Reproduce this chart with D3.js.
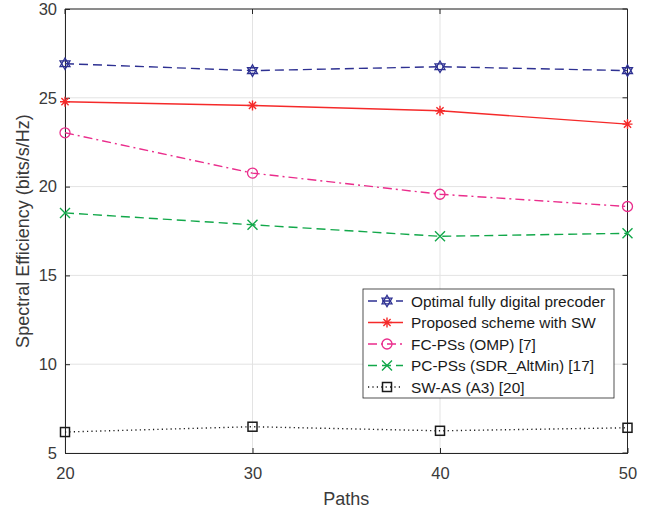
<!DOCTYPE html>
<html>
<head>
<meta charset="utf-8">
<script src="https://cdn.jsdelivr.net/npm/d3@7"></script>
<style>
  body { margin: 0; background: #fff; }
  svg { display: block; font-family: "Liberation Sans", Arial, sans-serif; }
</style>
</head>
<body>
<svg width="646" height="510"></svg>
<script>
// data
const paths = [20, 30, 40, 50];
const optimal = [26.92, 26.53, 26.75, 26.53];
const proposed = [24.78, 24.57, 24.27, 23.52];
const fcOmp = [23.03, 20.76, 19.57, 18.88];
const pcSdr = [18.52, 17.85, 17.2, 17.37];
const swAs = [6.18, 6.48, 6.25, 6.42];
const yTicks = [5, 10, 15, 20, 25, 30];
const xTicks = [20, 30, 40, 50];

const series = [
  { name: "Optimal fully digital precoder", values: optimal, color: "#2e3192", dash: "9,5", marker: "hexagram" },
  { name: "Proposed scheme with SW", values: proposed, color: "#f52a2a", dash: null, marker: "asterisk" },
  { name: "FC-PSs (OMP) [7]", values: fcOmp, color: "#ea2d8c", dash: "9,4,2,4", marker: "circle" },
  { name: "PC-PSs (SDR_AltMin) [17]", values: pcSdr, color: "#12a84a", dash: "9,5", marker: "cross" },
  { name: "SW-AS (A3) [20]", values: swAs, color: "#1a1a1a", dash: "1.2,3.2", marker: "square" }
];

const svg = d3.select("svg");
const mLeft = 65, mRight = 627.5, mTop = 9, mBottom = 453;

const x = d3.scaleLinear().domain([20, 50]).range([mLeft, mRight]);
const y = d3.scaleLinear().domain([5, 30]).range([mBottom, mTop]);

const axisColor = "#262626";

// grid
svg.append("g").selectAll("line").data(xTicks).join("line")
  .attr("x1", d => x(d)).attr("x2", d => x(d))
  .attr("y1", mTop).attr("y2", mBottom)
  .attr("stroke", "#e3e3e3").attr("stroke-width", 1);
svg.append("g").selectAll("line").data(yTicks).join("line")
  .attr("x1", mLeft).attr("x2", mRight)
  .attr("y1", d => y(d)).attr("y2", d => y(d))
  .attr("stroke", "#e3e3e3").attr("stroke-width", 1);

// axes
const xAxis = svg.append("g").attr("transform", `translate(0,${mBottom})`)
  .call(d3.axisBottom(x).tickValues(xTicks).tickSize(-5).tickPadding(14).tickSizeOuter(0));
const yAxis = svg.append("g").attr("transform", `translate(${mLeft},0)`)
  .call(d3.axisLeft(y).tickValues(yTicks).tickSize(-5).tickPadding(8).tickSizeOuter(0));
[xAxis, yAxis].forEach(a => {
  a.selectAll("path, line").attr("stroke", axisColor);
  a.selectAll("text").attr("fill", "#3a3a3a").style("font-size", "16.5px");
});
// top and right ticks + box
svg.append("g").selectAll("line").data(xTicks).join("line")
  .attr("x1", d => x(d)).attr("x2", d => x(d)).attr("y1", mTop).attr("y2", mTop + 5)
  .attr("stroke", axisColor);
svg.append("g").selectAll("line").data(yTicks).join("line")
  .attr("x1", mRight).attr("x2", mRight - 5).attr("y1", d => y(d)).attr("y2", d => y(d))
  .attr("stroke", axisColor);
svg.append("path")
  .attr("d", `M${mLeft},${mTop}H${mRight}V${mBottom}`)
  .attr("fill", "none").attr("stroke", axisColor);

// labels
svg.append("text").attr("x", (mLeft + mRight) / 2).attr("y", 505)
  .attr("text-anchor", "middle").attr("fill", "#3a3a3a").style("font-size", "18px").text("Paths");
svg.append("text").attr("transform", `translate(29,${(mTop + mBottom) / 2}) rotate(-90)`)
  .attr("text-anchor", "middle").attr("fill", "#3a3a3a").style("font-size", "18px")
  .text("Spectral Efficiency (bits/s/Hz)");

// markers
function drawMarker(g, type, color) {
  const s = 5;
  if (type === "hexagram") {
    const tri = (rot) => d3.range(3).map(i => {
      const a = rot + i * 2 * Math.PI / 3;
      return [s * 1.15 * Math.sin(a), -s * 1.15 * Math.cos(a)];
    });
    g.append("path").attr("d", "M" + tri(0).join("L") + "Z")
      .attr("fill", "none").attr("stroke", color).attr("stroke-width", 1.3);
    g.append("path").attr("d", "M" + tri(Math.PI).join("L") + "Z")
      .attr("fill", "none").attr("stroke", color).attr("stroke-width", 1.3);
  } else if (type === "asterisk") {
    const d = s * 0.72;
    g.append("path").attr("d", `M0,${-s}V${s}M${-s},0H${s}M${-d},${-d}L${d},${d}M${-d},${d}L${d},${-d}`)
      .attr("stroke", color).attr("stroke-width", 1.4);
  } else if (type === "circle") {
    g.append("circle").attr("r", s).attr("fill", "none").attr("stroke", color).attr("stroke-width", 1.3);
  } else if (type === "cross") {
    g.append("path").attr("d", `M${-s},${-s}L${s},${s}M${-s},${s}L${s},${-s}`)
      .attr("stroke", color).attr("stroke-width", 1.4);
  } else if (type === "square") {
    g.append("rect").attr("x", -4.5).attr("y", -4.5).attr("width", 9).attr("height", 9)
      .attr("fill", "none").attr("stroke", color).attr("stroke-width", 1.5);
  }
}

const line = d3.line().x((d, i) => x(paths[i])).y(d => y(d));

series.forEach(s => {
  svg.append("path").datum(s.values)
    .attr("d", line).attr("fill", "none")
    .attr("stroke", s.color).attr("stroke-width", 1.4)
    .attr("stroke-dasharray", s.dash);
  s.values.forEach((v, i) => {
    const g = svg.append("g").attr("transform", `translate(${x(paths[i])},${y(v)})`);
    drawMarker(g, s.marker, s.color);
  });
});

// legend
const lg = svg.append("g").attr("transform", "translate(363,289)");
lg.append("rect").attr("width", 251).attr("height", 109)
  .attr("fill", "#fff").attr("stroke", "#262626").attr("stroke-width", 0.8);
series.forEach((s, i) => {
  const yy = 12 + i * 21.5;
  lg.append("line").attr("x1", 5).attr("x2", 40).attr("y1", yy).attr("y2", yy)
    .attr("stroke", s.color).attr("stroke-width", 1.4).attr("stroke-dasharray", s.dash);
  const g = lg.append("g").attr("transform", `translate(24,${yy})`);
  drawMarker(g, s.marker, s.color);
  lg.append("text").attr("x", 48).attr("y", yy + 5.5).attr("fill", "#1a1a1a")
    .style("font-size", "15.4px").text(s.name);
});
</script>
</body>
</html>
